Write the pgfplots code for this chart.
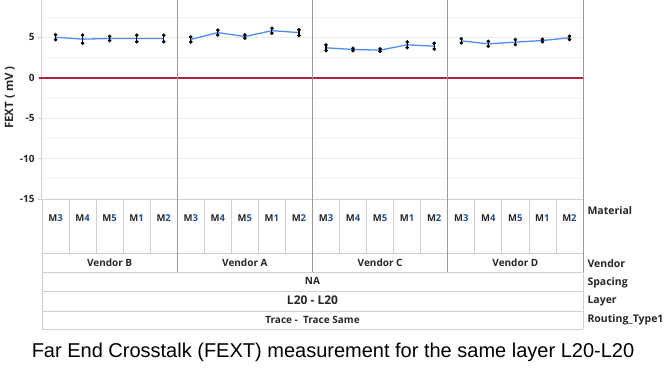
\documentclass[border=0pt]{standalone}
\usepackage{fontspec}
\setmainfont{Open Sans}
\newfontfamily\capfont{Liberation Sans}
\usepackage{pgfplots}
\pgfplotsset{compat=1.18}
\definecolor{blueline}{HTML}{4F8DF5}
\definecolor{redline}{HTML}{B2243A}
\definecolor{gridgray}{HTML}{ECECEC}
\definecolor{sepgray}{HTML}{9A9A9A}
\definecolor{tablegray}{HTML}{CFCFCF}
\definecolor{digitblue}{HTML}{1F4E8C}
\definecolor{txt}{HTML}{262626}
\begin{document}
\begin{tikzpicture}
\useasboundingbox (0pt,0pt) rectangle (664pt,369pt);
\begin{axis}[
  at={(42pt,170pt)}, anchor=south west,
  scale only axis, width=541pt, height=199pt,
  xmin=-0.5, xmax=19.5, ymin=-15, ymax=9.6,
  xtick=\empty,
  ytick={-15,-10,-5,0,5},
  minor ytick={-12.5,-7.5,-2.5,2.5,7.5},
  ymajorgrids, yminorgrids,
  major grid style={gridgray, line width=0.9pt},
  minor grid style={gridgray!70, line width=0.7pt},
  axis x line=none,
  axis y line*=left,
  y axis line style={tablegray, line width=1pt, -},
  tick align=outside,
  major tick length=4pt,
  minor tick length=0pt,
  tick style={tablegray, line width=0.8pt},
  yticklabel style={font=\bfseries\fontsize{10}{10}\selectfont, text=txt},
  /pgf/number format/assume math mode=true,
  clip=false,
]
\addplot[redline, line width=2pt, forget plot] coordinates {(-0.62,0) (19.5,0)};
% Vendor B
\addplot[blueline, line width=1.3pt, mark=none,
  error bars/.cd, y dir=both, y explicit,
  error bar style={black, line width=1.1pt},
  error mark=*, error mark options={black, mark size=1.6pt}]
  coordinates {(0,5.00) +- (0,0.30) (1,4.76) +- (0,0.50) (2,4.84) +- (0,0.25) (3,4.84) +- (0,0.40) (4,4.84) +- (0,0.40)};
% Vendor A
\addplot[blueline, line width=1.3pt, mark=none,
  error bars/.cd, y dir=both, y explicit,
  error bar style={black, line width=1.1pt},
  error mark=*, error mark options={black, mark size=1.6pt}]
  coordinates {(5,4.72) +- (0,0.30) (6,5.57) +- (0,0.30) (7,5.08) +- (0,0.20) (8,5.81) +- (0,0.30) (9,5.57) +- (0,0.35)};
% Vendor C
\addplot[blueline, line width=1.3pt, mark=none,
  error bars/.cd, y dir=both, y explicit,
  error bar style={black, line width=1.1pt},
  error mark=*, error mark options={black, mark size=1.6pt}]
  coordinates {(10,3.69) +- (0,0.35) (11,3.48) +- (0,0.15) (12,3.40) +- (0,0.15) (13,4.06) +- (0,0.35) (14,3.89) +- (0,0.35)};
% Vendor D
\addplot[blueline, line width=1.3pt, mark=none,
  error bars/.cd, y dir=both, y explicit,
  error bar style={black, line width=1.1pt},
  error mark=*, error mark options={black, mark size=1.6pt}]
  coordinates {(15,4.55) +- (0,0.25) (16,4.18) +- (0,0.30) (17,4.39) +- (0,0.30) (18,4.59) +- (0,0.15) (19,4.92) +- (0,0.20)};
\end{axis}
% y label
\node[rotate=90, font=\bfseries\fontsize{11.5}{11.5}\selectfont, text=txt] at (10pt,271.5pt) {FEXT ( mV )};
% table horizontal lines
\foreach \yy in {170,116,97,78,58,40} {
  \draw[tablegray, line width=0.8pt] (42pt,\yy pt) -- (583pt,\yy pt);
}
\draw[tablegray, line width=0.8pt] (42pt,170pt) -- (42pt,40pt);
\draw[tablegray, line width=0.8pt] (583pt,97pt) -- (583pt,40pt);
% category lines in material row
\foreach \k in {1,2,3,4,6,7,8,9,11,12,13,14,16,17,18,19} {
  \pgfmathsetmacro\xx{42+27.05*\k}
  \draw[tablegray, line width=0.8pt] (\xx pt,170pt) -- (\xx pt,116pt);
}
% group separators
\foreach \k in {5,10,15,20} {
  \pgfmathsetmacro\xx{42+27.05*\k}
  \draw[sepgray, line width=0.8pt] (\xx pt,369pt) -- (\xx pt,97pt);
}
% material labels
\foreach \g in {0,1,2,3} {
  \foreach \d [count=\i from 0] in {3,4,5,1,2} {
    \pgfmathsetmacro\xx{42+27.05*(5*\g+\i+0.5)}
    \node[font=\bfseries\fontsize{9.5}{9.5}\selectfont, text=txt] at (\xx pt,151pt) {M\textcolor{digitblue}{\d}};
  }
}
% vendor labels
\foreach \v [count=\i from 0] in {Vendor B,Vendor A,Vendor C,Vendor D} {
  \pgfmathsetmacro\xx{42+27.05*(5*\i+2.5)}
  \node[font=\bfseries\fontsize{10}{10}\selectfont, text=txt] at (\xx pt,106pt) {\v};
}
\node[font=\bfseries\fontsize{10}{10}\selectfont, text=txt] at (312.5pt,88pt) {NA};
\node[font=\bfseries\fontsize{12}{12}\selectfont, text=txt] at (312.5pt,68.5pt) {L20 - L20};
\node[font=\bfseries\fontsize{10}{10}\selectfont, text=txt] at (312.5pt,49.5pt) {Trace -\ \ Trace Same};
% right labels
\foreach \lab/\yy in {Material/158,Vendor/105,Spacing/86,Layer/68,Routing\_Type1/49} {
  \node[anchor=west, font=\bfseries\fontsize{10.5}{10.5}\selectfont, text=txt] at (584pt,\yy pt) {\lab};
}
% caption
\node[font=\capfont\fontsize{20}{20}\selectfont, text=black] at (333pt,17pt) {Far End Crosstalk (FEXT) measurement for the same layer L20-L20};
\end{tikzpicture}
\end{document}
